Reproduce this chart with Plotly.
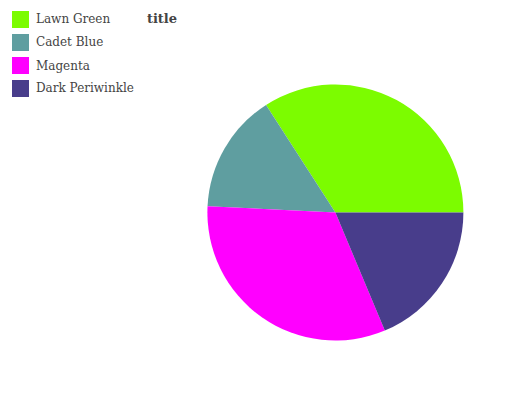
import plotly.graph_objects as go

labels = ["Lawn Green", "Cadet Blue", "Magenta", "Dark Periwinkle"]
values = [34.1, 15.1, 32.1, 18.7]
colors = ["#7CFC00", "#5F9EA0", "#FF00FF", "#483D8B"]
title_text = "title"

W, H = 532, 400
cx, cy, r = 335.4, 212.5, 128

fig = go.Figure()
fig.add_trace(go.Pie(
    labels=labels, values=values, sort=False,
    direction="counterclockwise", rotation=327.2,
    marker=dict(colors=colors, line=dict(width=0)),
    textinfo="none", hoverinfo="label+value",
    showlegend=False,
    domain=dict(x=[(cx - r) / W, (cx + r) / W],
                y=[(H - cy - r) / H, (H - cy + r) / H]),
))

shapes = []
annotations = []
row0, step, sq = 19.5, 23, 17
for i, (lab, col) in enumerate(zip(labels, colors)):
    yc = row0 + i * step
    shapes.append(dict(type="rect", xref="paper", yref="paper",
                       x0=12 / W, x1=(12 + sq) / W,
                       y0=1 - (yc - sq / 2) / H, y1=1 - (yc + sq / 2) / H,
                       fillcolor=col, line=dict(width=0)))
    annotations.append(dict(text=lab, xref="paper", yref="paper",
                            x=34 / W, y=1 - yc / H, xanchor="left", yanchor="middle",
                            showarrow=False,
                            font=dict(family="DejaVu Serif", size=12, color="#444444")))

fig.update_layout(
    width=W, height=H,
    margin=dict(l=0, r=0, t=0, b=0),
    paper_bgcolor="white", plot_bgcolor="white",
    title=dict(text="<b>" + title_text + "</b>", xref="container", yref="container",
               x=162 / W, xanchor="center", y=1 - 18 / H, yanchor="middle",
               font=dict(family="DejaVu Serif", size=13, color="#444444")),
    shapes=shapes, annotations=annotations,
)

fig.write_html("out.html")
